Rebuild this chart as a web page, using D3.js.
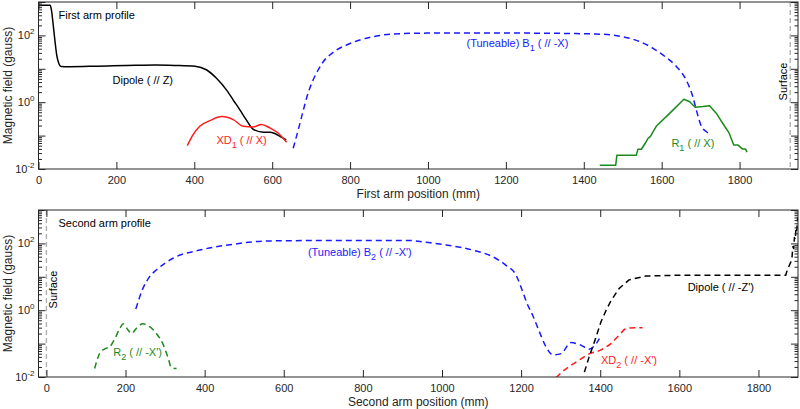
<!DOCTYPE html>
<html><head><meta charset="utf-8">
<script src="https://cdn.jsdelivr.net/npm/d3@7"></script>
<style>body{margin:0;background:#fff}svg{display:block;font-family:"Liberation Sans",Arial,sans-serif}</style>
</head><body><svg id="c" width="800" height="409"></svg>
<script>
// ---- data ----
const xTicks = [0,200,400,600,800,1000,1200,1400,1600,1800];
const yTickExps = [-2,0,2];

// First arm
const dipole1X = [0,30,33,37,42,47,51,58,80,150,250,300,350,402,432,457,483,500,517,534,551,577,594,603,620,636];
const dipole1Y = [800,800,600,250,73,25,16,11.8,11.6,12,12.8,12.9,12.6,12.0,9.2,5.2,2.3,1.16,0.59,0.29,0.155,0.127,0.125,0.12,0.095,0.074];
const xd1X = [382,397,414,440,471,500,526,551,572,594,615,637];
const xd1Y = [0.05,0.107,0.19,0.28,0.37,0.30,0.19,0.18,0.215,0.17,0.12,0.063];
const b1X = [654,667,680,692,705,718,731,748,765,791,825,868,910,996,1100,1261,1432,1500,1544,1578,1603,1638,1663,1680,1689,1702,1715,1727];
const b1Y = [0.042,0.15,0.58,1.85,4.6,9.2,16.3,26,36.6,51.6,73,96,110,117,118,117,110,91,65,41,26,11.6,4.6,1.45,0.58,0.19,0.13,0.107];
const r1X = [1441,1482,1485,1535,1539,1548,1558,1565,1571,1586,1621,1657,1672,1686,1706,1723,1740,1757,1773,1785,1796,1807,1815,1819];
const r1Y = [0.013,0.013,0.026,0.026,0.039,0.039,0.06,0.083,0.095,0.19,0.47,1.22,1.03,0.71,0.74,0.78,0.47,0.23,0.12,0.052,0.052,0.04,0.04,0.032];
const surface1 = 1930;

// Second arm
const r2X = [122,128,135,148,160,173,186,194,207,215,228,244,261,278,295,308,316,329];
const r2Y = [0.018,0.032,0.052,0.07,0.08,0.14,0.29,0.39,0.25,0.2,0.29,0.39,0.32,0.2,0.095,0.036,0.019,0.018];
const b2X = [226,244,261,278,320,388,472,556,700,918,961,1011,1078,1128,1162,1187,1204,1217,1229,1246,1263,1280,1301,1326,1351,1372,1390,1398];
const b2Y = [1.09,4.5,10.1,16,36,63,94,118,122,122,108,90,63,40,22,11.4,3.6,1.4,0.72,0.23,0.08,0.046,0.05,0.107,0.09,0.068,0.1,0.14];
const xd2X = [1288,1309,1339,1372,1402,1427,1448,1465,1490,1507];
const xd2Y = [0.0095,0.016,0.028,0.049,0.065,0.1,0.18,0.28,0.3,0.3];
const dipole2X = [1360,1372,1385,1402,1415,1427,1448,1473,1515,1600,1869,1873,1882,1885,1887,1889,1891,1893,1895,1897,1899];
const dipole2Y = [0.014,0.04,0.11,0.45,1.0,1.9,4.5,8.1,10.5,11.2,11.2,16,28,40,80,70,150,130,300,250,600];
const surface2 = 0;

const C = {black:"#000", red:"#ff1a1a", blue:"#1a1aff", green:"#1b8a1b", axis:"#262626", grey:"#b0b0b0"};

const panels = [
  {box:{l:38.5,r:798,t:2,b:169}, xdom:[0,1950], title:"First arm position (mm)", profile:"First arm profile", surface:surface1,
   series:[
     {x:dipole1X,y:dipole1Y,c:C.black,dash:null,curve:d3.curveMonotoneX},
     {x:xd1X,y:xd1Y,c:C.red,dash:null,curve:d3.curveMonotoneX},
     {x:b1X,y:b1Y,c:C.blue,dash:"6,4",curve:d3.curveMonotoneX},
     {x:r1X,y:r1Y,c:C.green,dash:null,curve:d3.curveLinear}
   ],
   labels:[
     {x:190,y:3.5,t:["Dipole ( // Z)"],c:C.black},
     {x:457,y:0.055,t:["XD","1"," ( // X)"],c:C.red},
     {x:1099,y:45,t:["(Tuneable) B","1"," ( // -X)"],c:C.blue},
     {x:1625,y:0.046,t:["R","1"," ( // X)"],c:C.green}
   ], surfLabelDx:-7},
  {box:{l:38.5,r:798,t:210,b:377}, xdom:[-20,1900], title:"Second arm position (mm)", profile:"Second arm profile", surface:surface2,
   series:[
     {x:r2X,y:r2Y,c:C.green,dash:"6,4",curve:d3.curveMonotoneX},
     {x:b2X,y:b2Y,c:C.blue,dash:"6,4",curve:d3.curveMonotoneX},
     {x:xd2X,y:xd2Y,c:C.red,dash:"6,4",curve:d3.curveMonotoneX},
     {x:dipole2X,y:dipole2Y,c:C.black,dash:"6,4",curve:d3.curveLinear}
   ],
   labels:[
     {x:169,y:0.044,t:["R","2"," ( // -X')"],c:C.green},
     {x:661,y:43,t:["(Tuneable) B","2"," ( // -X')"],c:C.blue},
     {x:1402,y:0.025,t:["XD","2"," ( // -X')"],c:C.red},
     {x:1621,y:3.8,t:["Dipole ( // -Z')"],c:C.black}
   ], surfLabelDx:7}
];

const svg = d3.select("#c");
const FS = 11;

panels.forEach((p,pi)=>{
  const B = p.box;
  const x = d3.scaleLinear().domain(p.xdom).range([B.l,B.r]);
  const y = d3.scaleLog().domain([0.01,1000]).range([B.b,B.t]);
  const g = svg.append("g");
  const cid = "clip"+pi;
  svg.append("defs").append("clipPath").attr("id",cid).append("rect")
    .attr("x",B.l).attr("y",B.t).attr("width",B.r-B.l).attr("height",B.b-B.t);

  // surface line
  g.append("line").attr("x1",x(p.surface)).attr("x2",x(p.surface)).attr("y1",B.t).attr("y2",B.b)
    .attr("stroke",C.grey).attr("stroke-width",1.4).attr("stroke-dasharray","5,3");
  const sx = x(p.surface)+p.surfLabelDx, sy = (B.t+B.b)/2 - 4;
  g.append("text").attr("transform",`translate(${sx+4},${sy}) rotate(-90)`).attr("text-anchor","middle")
    .attr("font-size",FS).attr("fill","#000").text("Surface");

  // series
  const pg = g.append("g").attr("clip-path",`url(#${cid})`);
  p.series.forEach(s=>{
    const pts = s.x.map((v,i)=>[v,s.y[i]]);
    pg.append("path").attr("d",d3.line().x(d=>x(d[0])).y(d=>y(d[1])).curve(s.curve)(pts))
      .attr("fill","none").attr("stroke",s.c).attr("stroke-width",1.5)
      .attr("stroke-dasharray",s.dash).attr("stroke-linejoin","round");
  });

  // axes box
  g.append("rect").attr("x",B.l).attr("y",B.t).attr("width",B.r-B.l).attr("height",B.b-B.t)
    .attr("fill","none").attr("stroke",C.axis).attr("stroke-width",1);

  // x ticks (bottom & top, inward)
  const bAx = d3.axisBottom(x).tickValues(xTicks).tickSize(-7).tickPadding(7).tickFormat(d3.format("d"));
  const gb = g.append("g").attr("transform",`translate(0,${B.b})`).call(bAx);
  const tAx = d3.axisTop(x).tickValues(xTicks).tickSize(-7).tickFormat("");
  const gt = g.append("g").attr("transform",`translate(0,${B.t})`).call(tAx);
  [gb,gt].forEach(a=>{a.select(".domain").remove(); a.selectAll("line").attr("stroke",C.axis);});
  gb.selectAll("text").attr("font-size",FS).attr("fill",C.axis).attr("font-family","Liberation Sans, Arial");

  // y ticks: majors each decade, minors 2..9
  const majors = d3.range(-2,4).map(e=>Math.pow(10,e));
  const minors = [];
  d3.range(-2,3).forEach(e=>{for(let k=2;k<=9;k++) minors.push(k*Math.pow(10,e));});
  const lAx = d3.axisLeft(y).tickValues(majors).tickSize(-7).tickFormat("");
  const rAx = d3.axisRight(y).tickValues(majors).tickSize(-7).tickFormat("");
  const lAm = d3.axisLeft(y).tickValues(minors).tickSize(-3.5).tickFormat("");
  const rAm = d3.axisRight(y).tickValues(minors).tickSize(-3.5).tickFormat("");
  [[lAx,B.l],[rAx,B.r],[lAm,B.l],[rAm,B.r]].forEach(([ax,xx])=>{
    const a = g.append("g").attr("transform",`translate(${xx},0)`).call(ax);
    a.select(".domain").remove(); a.selectAll("line").attr("stroke",C.axis);
  });
  // y tick labels
  yTickExps.forEach(e=>{
    const t = g.append("text").attr("x",B.l-4).attr("y",y(Math.pow(10,e))+4).attr("text-anchor","end")
      .attr("font-size",FS).attr("fill",C.axis);
    t.append("tspan").text("10");
    t.append("tspan").attr("dy",-5).attr("font-size",8).text(String(e));
  });

  // axis titles
  g.append("text").attr("x",(B.l+B.r)/2).attr("y",B.b+28.5).attr("text-anchor","middle")
    .attr("font-size",12).attr("fill",C.axis).text(p.title);
  g.append("text").attr("transform",`translate(12,${(B.t+B.b)/2}) rotate(-90)`).attr("text-anchor","middle")
    .attr("font-size",12).attr("fill",C.axis).text("Magnetic field (gauss)");

  // profile label
  g.append("text").attr("x",B.l+20).attr("y",B.t+16.5).attr("font-size",FS).attr("fill","#000").text(p.profile);

  // series labels
  p.labels.forEach(L=>{
    const t = g.append("text").attr("x",x(L.x)).attr("y",y(L.y)).attr("font-size",FS).attr("fill",L.c);
    if(L.t.length===1){ t.text(L.t[0]); }
    else {
      t.append("tspan").text(L.t[0]);
      t.append("tspan").attr("dy",4).attr("font-size",9).text(L.t[1]);
      t.append("tspan").attr("dy",-4).text(L.t[2]);
    }
  });
});
</script></body></html>
